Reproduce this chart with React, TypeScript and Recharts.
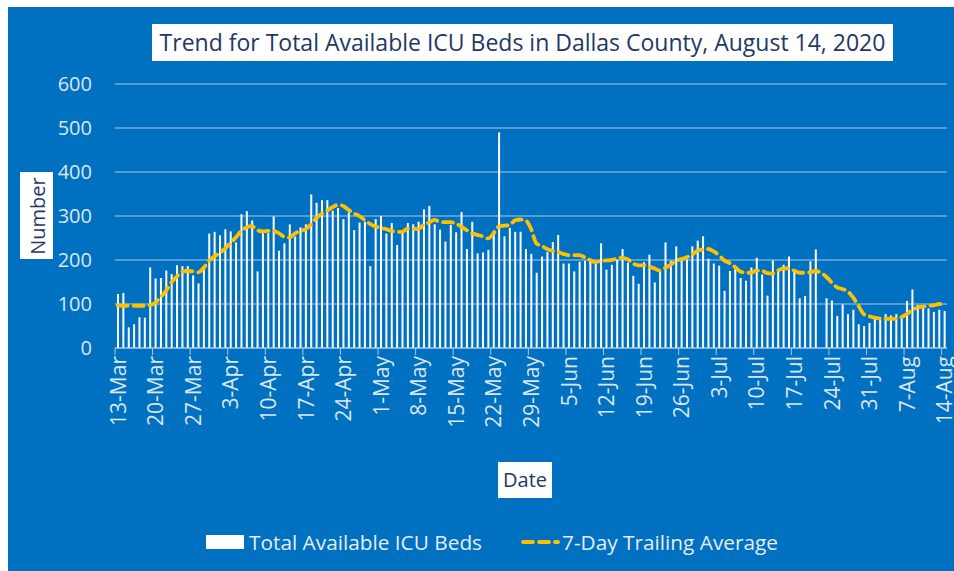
import React from "react";
import { ComposedChart, Bar, Line, XAxis, YAxis, CartesianGrid } from "recharts";

// Month names and lengths used to build the daily category labels (13-Mar .. 14-Aug 2020)
const monthNames = ["Mar", "Apr", "May", "Jun", "Jul", "Aug"];
const monthDays = [31, 30, 31, 30, 31, 31];
const startDay = 13;
const endDay = 14;

function buildDates(): string[] {
  const out: string[] = [];
  for (let m = 0; m < monthNames.length; m++) {
    const first = m === 0 ? startDay : 1;
    const last = m === monthNames.length - 1 ? endDay : monthDays[m];
    for (let d = first; d <= last; d++) out.push(`${d}-${monthNames[m]}`);
  }
  return out;
}
const dates = buildDates();

// Total Available ICU Beds (daily)
const icuBeds = [
  123, 125, 47, 54, 70, 69, 183, 158, 159, 176,
  168, 188, 186, 186, 165, 147, 182, 260, 264, 256,
  270, 265, 240, 304, 311, 290, 174, 261, 261, 299,
  221, 238, 281, 253, 274, 281, 349, 330, 336, 336,
  312, 318, 293, 308, 268, 285, 287, 186, 293, 300,
  260, 284, 234, 264, 284, 281, 287, 315, 323, 281,
  269, 242, 280, 263, 309, 225, 287, 215, 217, 223,
  267, 490, 254, 273, 264, 264, 225, 214, 171, 208,
  218, 241, 257, 192, 192, 174, 196, 198, 198, 191,
  238, 178, 189, 201, 225, 194, 164, 146, 195, 212,
  149, 174, 240, 198, 231, 202, 201, 231, 244, 254,
  203, 192, 187, 130, 175, 184, 159, 153, 183, 205,
  167, 119, 199, 179, 189, 208, 176, 113, 118, 197,
  224, 0, 113, 108, 73, 99, 77, 87, 54, 50,
  57, 71, 69, 77, 74, 77, 67, 107, 133, 98,
  92, 90, 82, 87, 84,
];

// 7-Day Trailing Average
const trailingAvg = [
  97, 96, 96, 96, 96, 96, 97, 103, 116, 130,
  149, 162, 174, 175, 174, 172, 182, 198, 208, 216,
  226, 238, 251, 266, 274, 277, 268, 265, 266, 266,
  261, 253, 251, 260, 266, 270, 281, 295, 305, 312,
  320, 325, 323, 314, 306, 300, 291, 282, 276, 273,
  270, 266, 264, 264, 271, 271, 270, 280, 285, 291,
  287, 286, 286, 283, 276, 268, 261, 257, 254, 249,
  260, 276, 278, 279, 290, 292, 290, 271, 238, 232,
  225, 221, 218, 214, 211, 211, 211, 206, 200, 195,
  198, 199, 200, 203, 205, 202, 192, 188, 188, 185,
  181, 176, 182, 189, 198, 202, 206, 212, 221, 224,
  225, 220, 211, 199, 193, 184, 174, 171, 171, 176,
  176, 170, 169, 176, 181, 181, 176, 171, 171, 172,
  175, 171, 162, 149, 138, 134, 129, 115, 96, 77,
  72, 69, 67, 67, 66, 67, 70, 77, 86, 92,
  94, 96, 97, 100, 100,
];

const yTicks = [0, 100, 200, 300, 400, 500, 600];

const title = "Trend for Total Available ICU Beds in Dallas County, August 14, 2020";
const yLabel = "Number";
const xLabel = "Date";
const barLegend = "Total Available ICU Beds";
const lineLegend = "7-Day Trailing Average";

const data = dates.map((d, i) => ({ date: d, beds: icuBeds[i], avg: trailingAvg[i] }));

const BG = "#0070C0";
const GRID = "#A9C8E8";
const TICK = "#DCE6F1";
const NAVY = "#1F3864";
const GOLD = "#FFC000";
const FONT = "'Open Sans', sans-serif";

const W = 946;
const H = 564;
const M = { top: 77, right: 7, left: 0, bottom: 0 };
const Y_W = 107;
const X_H = 223;
const HALF_BAND = (W - M.right - Y_W) / dates.length / 2;

const XTick = (props: any) => {
  const { x, y, payload } = props;
  const tx = x - HALF_BAND;
  return (
    <g>
      <line x1={tx} x2={tx} y1={y} y2={y + 7} stroke={GRID} strokeWidth={1} />
      <text
        x={x}
        y={y + 8}
        transform={`rotate(-90, ${x}, ${y + 8})`}
        textAnchor="end"
        dominantBaseline="central"
        fill={TICK}
        fontSize={21}
        fontFamily={FONT}
      >
        {payload.value}
      </text>
    </g>
  );
};

export default function App() {
  return (
    <div
      style={{
        position: "fixed",
        left: 8,
        top: 7,
        width: W,
        height: H,
        background: BG,
        fontFamily: FONT,
        overflow: "hidden",
      }}
    >
      <ComposedChart width={W} height={H} data={data} margin={M} barCategoryGap={0}>
        <CartesianGrid horizontal vertical={false} stroke={GRID} strokeWidth={1} />
        <XAxis
          dataKey="date"
          interval={6}
          height={X_H}
          tickSize={0}
          tickMargin={0}
          tickLine={false}
          axisLine={{ stroke: GRID, strokeWidth: 1 }}
          tick={<XTick />}
        />
        <YAxis
          domain={[0, 600]}
          ticks={yTicks}
          width={Y_W}
          axisLine={false}
          tickLine={false}
          tickSize={0}
          tickMargin={23}
          tick={{ fill: TICK, fontSize: 20, fontFamily: FONT }}
        />
        <Bar dataKey="beds" fill="#FFFFFF" barSize={2} isAnimationActive={false} />
        <Line
          dataKey="avg"
          type="monotone"
          stroke={GOLD}
          strokeWidth={3.8}
          strokeDasharray="10 6"
          strokeLinecap="round"
          dot={false}
          activeDot={false}
          isAnimationActive={false}
        />
      </ComposedChart>

      {/* Title */}
      <div
        style={{
          position: "absolute",
          left: 144,
          top: 17,
          width: 741,
          height: 37,
          background: "#FFFFFF",
          color: NAVY,
          fontSize: 23,
          lineHeight: "37px",
          textAlign: "center",
          whiteSpace: "nowrap",
        }}
      >
        {title}
      </div>

      {/* Y axis label */}
      <div
        style={{
          position: "absolute",
          left: 12,
          top: 165,
          width: 33,
          height: 87,
          background: "#FFFFFF",
        }}
      >
        <div
          style={{
            position: "absolute",
            left: "50%",
            top: "50%",
            transform: "translate(-50%, -50%) rotate(-90deg)",
            color: NAVY,
            fontSize: 20,
            whiteSpace: "nowrap",
          }}
        >
          {yLabel}
        </div>
      </div>

      {/* X axis label */}
      <div
        style={{
          position: "absolute",
          left: 490,
          top: 455,
          width: 54,
          height: 36,
          background: "#FFFFFF",
          color: NAVY,
          fontSize: 20,
          lineHeight: "36px",
          textAlign: "center",
        }}
      >
        {xLabel}
      </div>

      {/* Legend */}
      <div
        style={{
          position: "absolute",
          left: 198,
          top: 521,
          height: 28,
          display: "flex",
          alignItems: "center",
          color: "#E6EDF6",
          fontSize: 20.8,
          whiteSpace: "nowrap",
        }}
      >
        <div style={{ width: 38, height: 14, background: "#FFFFFF", marginRight: 5 }} />
        <span>{barLegend}</span>
        <svg width={40} height={10} style={{ marginLeft: 38, marginRight: 2 }}>
          <line
            x1={3}
            x2={38}
            y1={5}
            y2={5}
            stroke={GOLD}
            strokeWidth={3.8}
            strokeDasharray="10 6"
            strokeLinecap="round"
          />
        </svg>
        <span>{lineLegend}</span>
      </div>
    </div>
  );
}
